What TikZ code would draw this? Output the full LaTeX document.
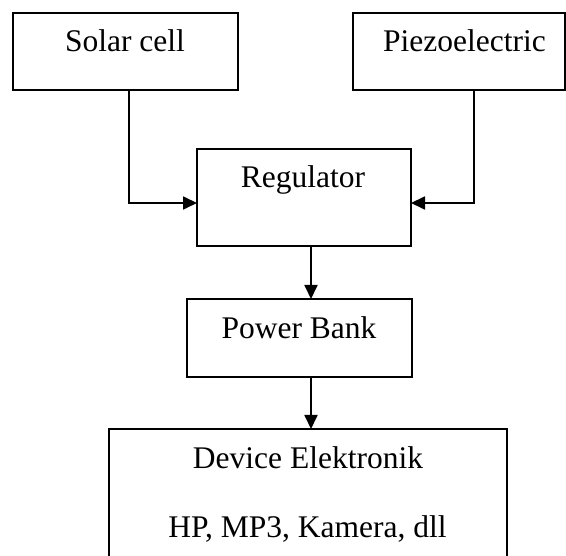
\documentclass[tikz,border=0pt]{standalone}
\usepackage{fontspec}
\setmainfont{Liberation Serif}
\usetikzlibrary{arrows.meta}
\begin{document}
\begin{tikzpicture}[x=1pt,y=-1pt,
  box/.style={draw=black,line width=1.8pt,inner sep=0pt,outer sep=0pt,fill=none},
  txt/.style={anchor=base,inner sep=0pt,font=\fontsize{31.5}{38}\selectfont},
  arr/.style={line width=1.8pt,-{Triangle[length=14pt,width=13pt]}}]
\useasboundingbox (0,0) rectangle (566,556);
\clip (0,0) rectangle (566,556);
\node[box,minimum width=225pt,minimum height=77pt] (solar) at (125.5,51.5) {};
\node[txt] (solart) at (125,52) {Solar cell};
\node[box,minimum width=212pt,minimum height=77pt] (piezo) at (459,51.5) {};
\node[txt] (piezot) at (464.5,52) {Piezoelectric};
\node[box,minimum width=214pt,minimum height=97pt] (reg) at (304,197.5) {};
\node[txt] (regt) at (303,188) {Regulator};
\node[box,minimum width=225pt,minimum height=78pt] (pb) at (299.5,338) {};
\node[txt] (pbt) at (299,339) {Power Bank};
\node[box,minimum width=398pt,minimum height=200pt] (dev) at (308,529) {};
\node[txt] (devt) at (308,469) {Device Elektronik};
\node[txt] (devt2) at (307.5,538) {HP, MP3, Kamera, dll};
\draw[arr] ([xshift=3.5pt]solar.south) |- ([yshift=-5.5pt]reg.west);
\draw[arr] ([xshift=15pt]piezo.south) |- ([yshift=-5.5pt]reg.east);
\draw[arr] ([xshift=7pt]reg.south) -- ([xshift=11.5pt]pb.north);
\draw[arr] ([xshift=11.5pt]pb.south) -- ([xshift=3pt]dev.north);
\end{tikzpicture}
\end{document}
